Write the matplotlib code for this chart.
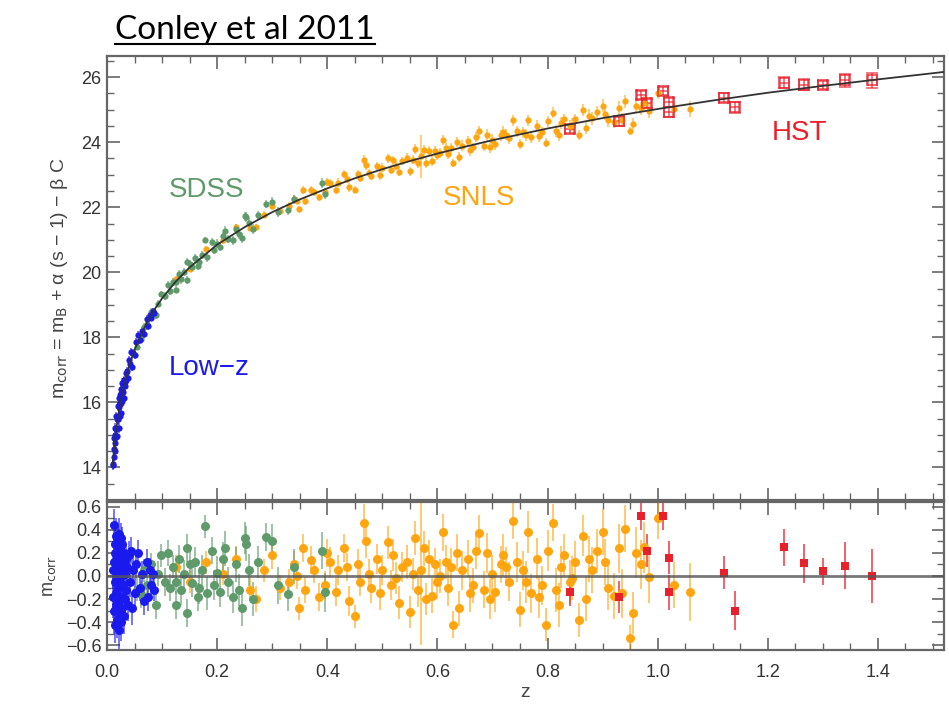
import matplotlib
matplotlib.use('Agg')
import matplotlib.pyplot as plt
from matplotlib.ticker import MultipleLocator
from matplotlib.lines import Line2D
from matplotlib.colors import to_rgba

plt.rcParams['font.family'] = ['Liberation Sans', 'DejaVu Sans']

# best-fit model curve
model_z = [0.010, 0.015, 0.020, 0.025, 0.030, 0.040, 0.050, 0.070, 0.085, 0.10,
           0.125, 0.15, 0.20, 0.25, 0.30, 0.35, 0.40, 0.45, 0.50, 0.55,
           0.60, 0.65, 0.70, 0.75, 0.80, 0.85, 0.90, 0.95, 1.00, 1.05,
           1.10, 1.20, 1.30, 1.40, 1.50, 1.52]
model_m = [14.06, 14.95, 15.58, 16.07, 16.48, 17.12, 17.62, 18.38, 18.83, 19.20,
           19.72, 20.15, 20.85, 21.39, 21.85, 22.24, 22.58, 22.89, 23.17, 23.42,
           23.65, 23.86, 24.06, 24.24, 24.42, 24.58, 24.74, 24.88, 25.02, 25.15,
           25.28, 25.52, 25.73, 25.93, 26.12, 26.16]

# Low-z sample
lowz_z = [0.010, 0.011, 0.012, 0.012, 0.013, 0.014, 0.014, 0.015, 0.015, 0.016,
          0.016, 0.017, 0.017, 0.018, 0.018, 0.019, 0.020, 0.020, 0.021, 0.021,
          0.022, 0.022, 0.023, 0.023, 0.024, 0.024, 0.025, 0.025, 0.026, 0.026,
          0.027, 0.028, 0.028, 0.029, 0.030, 0.030, 0.031, 0.032, 0.033, 0.034,
          0.035, 0.036, 0.038, 0.040, 0.042, 0.044, 0.045, 0.047, 0.050, 0.053,
          0.056, 0.060, 0.064, 0.068, 0.072, 0.075, 0.078, 0.080, 0.083, 0.086]
lowz_m = [14.11, 14.09, 14.90, 14.58, 14.33, 14.99, 14.74, 15.22, 14.52, 15.17,
          14.94, 15.57, 14.97, 15.50, 14.97, 15.49, 15.88, 15.48, 15.87, 15.22,
          16.15, 15.57, 15.99, 15.57, 16.23, 15.96, 16.40, 15.67, 16.28, 15.98,
          16.29, 16.60, 16.04, 16.32, 16.68, 16.13, 16.65, 16.64, 16.49, 16.91,
          16.70, 16.96, 16.75, 17.30, 17.18, 17.55, 17.10, 17.53, 17.47, 17.85,
          18.08, 17.93, 18.20, 18.10, 18.57, 18.36, 18.68, 18.61, 18.80, 18.74]
lowz_res = [0.05, -0.18, 0.44, 0.12, -0.30, 0.20, -0.05, 0.28, -0.42, 0.08,
            -0.15, 0.35, -0.25, 0.15, -0.38, 0.02, 0.30, -0.10, 0.18, -0.47,
            0.36, -0.22, 0.10, -0.32, 0.25, -0.02, 0.33, -0.40, 0.12, -0.18,
            0.05, 0.28, -0.28, -0.08, 0.20, -0.35, 0.10, 0.02, -0.20, 0.15,
            -0.12, 0.08, -0.25, 0.18, -0.05, 0.22, -0.28, 0.05, -0.15, 0.10,
            0.20, -0.10, 0.02, -0.22, 0.12, -0.18, 0.05, -0.08, 0.02, -0.12]
lowz_err = [0.15, 0.18, 0.14, 0.16, 0.20, 0.15, 0.17, 0.14, 0.16, 0.15,
            0.17, 0.15, 0.18, 0.14, 0.16, 0.15, 0.14, 0.17, 0.15, 0.16,
            0.14, 0.16, 0.15, 0.17, 0.14, 0.15, 0.13, 0.16, 0.14, 0.15,
            0.13, 0.14, 0.15, 0.13, 0.14, 0.15, 0.13, 0.12, 0.14, 0.13,
            0.12, 0.13, 0.14, 0.12, 0.13, 0.12, 0.14, 0.12, 0.13, 0.12,
            0.11, 0.12, 0.11, 0.12, 0.11, 0.12, 0.11, 0.10, 0.11, 0.10]

# SDSS sample
sdss_z = [0.055, 0.062, 0.067, 0.073, 0.080, 0.089, 0.092, 0.098, 0.105, 0.110,
          0.115, 0.120, 0.125, 0.126, 0.130, 0.135, 0.140, 0.146, 0.146, 0.150,
          0.155, 0.160, 0.165, 0.167, 0.172, 0.178, 0.182, 0.190, 0.195, 0.200,
          0.205, 0.210, 0.215, 0.220, 0.228, 0.235, 0.240, 0.245, 0.250, 0.252,
          0.258, 0.265, 0.275, 0.288, 0.300, 0.310, 0.328, 0.340, 0.390, 0.395]
sdss_m = [17.71, 17.94, 18.33, 18.40, 18.79, 18.68, 19.03, 19.33, 19.26, 19.62,
          19.43, 19.71, 19.47, 19.69, 19.96, 19.78, 20.01, 20.33, 19.77, 20.25,
          20.17, 20.43, 20.20, 20.31, 20.53, 20.99, 20.47, 20.94, 20.70, 20.88,
          20.77, 21.11, 21.26, 21.03, 20.99, 21.34, 21.17, 21.06, 21.72, 21.69,
          21.52, 21.34, 21.75, 22.09, 22.15, 21.85, 21.91, 22.24, 22.74, 22.41]
sdss_res = [-0.12, -0.16, 0.05, -0.08, 0.10, -0.25, 0.02, 0.18, -0.05, 0.20,
            -0.10, 0.08, -0.25, -0.05, 0.15, -0.12, 0.02, 0.24, -0.32, 0.10,
            -0.06, 0.12, -0.18, -0.10, 0.05, 0.43, -0.15, 0.22, -0.08, 0.03,
            -0.14, 0.15, 0.24, -0.05, -0.18, 0.10, -0.12, -0.28, 0.33, 0.28,
            0.05, -0.20, 0.12, 0.34, 0.30, -0.08, -0.16, 0.08, 0.22, -0.14]
sdss_err = [0.10, 0.12, 0.10, 0.11, 0.10, 0.12, 0.11, 0.10, 0.12, 0.11,
            0.12, 0.10, 0.12, 0.11, 0.12, 0.13, 0.12, 0.12, 0.12, 0.13,
            0.12, 0.13, 0.12, 0.14, 0.13, 0.10, 0.14, 0.12, 0.13, 0.14,
            0.13, 0.14, 0.15, 0.13, 0.14, 0.15, 0.14, 0.15, 0.14, 0.15,
            0.14, 0.15, 0.14, 0.12, 0.15, 0.16, 0.14, 0.15, 0.16, 0.17]

# SNLS sample
snls_z = [0.125, 0.150, 0.180, 0.210, 0.235, 0.260, 0.270, 0.285, 0.300, 0.315,
          0.330, 0.340, 0.348, 0.355, 0.360, 0.370, 0.375, 0.385, 0.400, 0.405,
          0.415, 0.420, 0.430, 0.440, 0.450, 0.455, 0.460, 0.467, 0.470, 0.480,
          0.490, 0.495, 0.500, 0.510, 0.515, 0.520, 0.530, 0.535, 0.545, 0.550,
          0.555, 0.560, 0.570, 0.575, 0.580, 0.585, 0.590, 0.595, 0.600, 0.610,
          0.615, 0.620, 0.628, 0.635, 0.640, 0.645, 0.655, 0.665, 0.670, 0.676,
          0.685, 0.690, 0.700, 0.705, 0.715, 0.720, 0.730, 0.737, 0.745, 0.750,
          0.755, 0.765, 0.770, 0.780, 0.790, 0.798, 0.800, 0.810, 0.815, 0.825,
          0.830, 0.840, 0.850, 0.858, 0.865, 0.870, 0.880, 0.890, 0.900, 0.910,
          0.920, 0.930, 0.940, 0.950, 0.955, 0.960, 0.970, 0.985, 1.000, 1.030,
          1.058, 0.345, 0.435, 0.525, 0.605, 0.660, 0.725, 0.785, 0.845, 0.905,
          0.395, 0.475, 0.565, 0.625, 0.695, 0.760, 0.820, 0.875, 0.935, 0.975]
snls_m = [19.80, 20.10, 20.71, 20.98, 21.39, 21.37, 21.38, 21.77, 22.03, 21.87,
          22.04, 22.26, 21.94, 22.52, 22.19, 22.52, 22.46, 22.30, 22.78, 22.73,
          22.54, 22.76, 23.01, 22.61, 22.54, 23.02, 22.90, 23.45, 23.30, 22.96,
          23.26, 22.99, 23.22, 23.51, 23.16, 23.45, 23.09, 23.42, 23.51, 23.11,
          23.46, 23.80, 23.56, 23.77, 23.36, 23.73, 23.43, 23.73, 23.60, 24.07,
          23.83, 23.63, 23.35, 24.00, 23.54, 23.89, 24.03, 23.84, 24.16, 24.33,
          23.88, 24.22, 24.08, 23.94, 24.21, 24.31, 24.12, 24.67, 24.34, 23.95,
          24.31, 24.67, 24.16, 24.50, 24.30, 23.99, 24.64, 24.91, 24.35, 24.58,
          24.70, 24.50, 24.70, 24.23, 24.98, 24.44, 24.73, 24.93, 25.12, 24.67,
          24.63, 25.06, 25.26, 24.34, 24.57, 25.11, 25.04, 24.97, 25.52, 25.02,
          25.03, 22.20, 22.88, 23.27, 23.67, 23.75, 24.23, 24.19, 24.54, 24.87,
          22.47, 23.05, 23.37, 23.83, 23.84, 24.23, 24.23, 24.81, 24.69, 25.20]
snls_res = [0.08, -0.05, 0.12, 0.02, 0.15, -0.12, -0.20, 0.05, 0.18, -0.10,
            -0.05, 0.10, -0.28, 0.24, -0.12, 0.14, 0.05, -0.18, 0.20, 0.12,
            -0.14, 0.05, 0.24, -0.22, -0.35, 0.10, -0.05, 0.46, 0.30, -0.10,
            0.15, -0.15, 0.05, 0.29, -0.08, 0.18, -0.23, 0.08, 0.12, -0.31,
            0.02, 0.33, 0.05, 0.24, -0.20, 0.15, -0.17, 0.10, -0.05, 0.38,
            0.12, -0.10, -0.42, 0.20, -0.28, 0.05, 0.15, -0.08, 0.22, 0.37,
            -0.12, 0.20, 0.02, -0.14, 0.10, 0.18, -0.05, 0.48, 0.12, -0.29,
            0.05, 0.38, -0.15, 0.15, -0.08, -0.42, 0.22, 0.46, -0.12, 0.08,
            0.18, -0.05, 0.12, -0.38, 0.35, -0.20, 0.05, 0.22, 0.38, -0.10,
            -0.17, 0.24, 0.41, -0.54, -0.32, 0.20, 0.10, -0.01, 0.50, -0.08,
            -0.14, 0.00, 0.08, -0.02, 0.00, -0.15, 0.08, -0.18, -0.02, 0.12,
            -0.08, 0.02, -0.12, 0.08, -0.20, -0.05, -0.25, 0.15, -0.15, 0.25]
snls_err = [0.10, 0.10, 0.10, 0.10, 0.11, 0.10, 0.11, 0.10, 0.12, 0.11,
            0.11, 0.12, 0.10, 0.12, 0.11, 0.12, 0.11, 0.12, 0.12, 0.13,
            0.12, 0.13, 0.12, 0.13, 0.10, 0.13, 0.12, 0.16, 0.14, 0.13,
            0.13, 0.14, 0.13, 0.14, 0.13, 0.14, 0.14, 0.13, 0.15, 0.14,
            0.14, 0.15, 0.65, 0.15, 0.14, 0.16, 0.15, 0.14, 0.15, 0.16,
            0.15, 0.16, 0.12, 0.16, 0.15, 0.17, 0.16, 0.15, 0.16, 0.16,
            0.16, 0.17, 0.16, 0.17, 0.16, 0.18, 0.17, 0.16, 0.17, 0.15,
            0.17, 0.18, 0.17, 0.18, 0.17, 0.14, 0.18, 0.16, 0.19, 0.18,
            0.18, 0.19, 0.18, 0.15, 0.18, 0.19, 0.20, 0.19, 0.20, 0.19,
            0.20, 0.21, 0.20, 0.12, 0.18, 0.22, 0.21, 0.22, 0.18, 0.20,
            0.25, 0.11, 0.12, 0.14, 0.15, 0.16, 0.17, 0.18, 0.19, 0.20,
            0.12, 0.13, 0.15, 0.16, 0.17, 0.18, 0.19, 0.20, 0.21, 0.22]

# HST sample
hst_z = [0.84, 0.93, 0.97, 0.98, 1.01, 1.02, 1.02, 1.12, 1.14, 1.23, 1.265, 1.30, 1.34, 1.39]
hst_m = [24.41, 24.64, 25.46, 25.19, 25.57, 25.23, 24.93, 25.36, 25.08, 25.83, 25.77, 25.77, 25.90, 25.91]
hst_res = [-0.14, -0.18, 0.52, 0.22, 0.52, 0.16, -0.14, 0.03, -0.30, 0.25, 0.11, 0.04, 0.09, 0.00]
hst_err = [0.12, 0.14, 0.12, 0.14, 0.12, 0.14, 0.15, 0.14, 0.17, 0.16, 0.17, 0.12, 0.20, 0.23]

c_lowz = '#1a1aee'
c_sdss = '#5e9a6a'
c_snls = '#ffa510'
c_hst = '#e8202c'

fig = plt.figure(figsize=(9.49, 7.13), dpi=100)
ax1 = fig.add_axes([0.1128, 0.2987, 0.8819, 0.6228])
ax2 = fig.add_axes([0.1128, 0.0884, 0.8819, 0.2075])


def style(ax):
    for s in ax.spines.values():
        s.set_color('#666666')
        s.set_linewidth(1.6)
    ax.tick_params(which='both', direction='in', top=True, right=True,
                   colors='#666666', labelcolor='#333333', labelsize=13)
    ax.tick_params(which='major', length=9, width=1.2)
    ax.tick_params(which='minor', length=5, width=1.0)
    ax.tick_params(axis='x', pad=10)
    ax.tick_params(axis='y', pad=4)
    ax.xaxis.set_major_locator(MultipleLocator(0.2))
    ax.xaxis.set_minor_locator(MultipleLocator(0.05))
    ax.set_xlim(0, 1.52)


# top panel: Hubble diagram
samples = [(snls_z, snls_m, snls_err, c_snls),
           (sdss_z, sdss_m, sdss_err, c_sdss),
           (lowz_z, lowz_m, lowz_err, c_lowz)]
for zz, mm, ee, cc in samples:
    ax1.errorbar(zz, mm, yerr=ee, fmt='o', ms=4.5, color=cc, ecolor=to_rgba(cc, 0.6),
                 elinewidth=1.3, capsize=3.5, capthick=1.2, mew=0)
ax1.errorbar(hst_z, hst_m, yerr=hst_err, xerr=0.008, fmt='s', ms=7, mfc='none',
             mec=to_rgba(c_hst, 0.8), mew=1.2, ecolor=to_rgba(c_hst, 0.7),
             elinewidth=1.2, capsize=4)
ax1.plot(model_z, model_m, color='#333333', lw=1.3, zorder=5)

ax1.set_ylim(13.0, 26.65)
ax1.yaxis.set_major_locator(MultipleLocator(2))
ax1.yaxis.set_minor_locator(MultipleLocator(0.5))
style(ax1)
ax1.tick_params(axis='x', labelbottom=False)
ax1.set_ylabel('m$_{\\rm corr}$ = m$_{\\rm B}$ + \u03b1 (s \u2212 1) \u2212 \u03b2 C',
               fontsize=14, color='#444444', labelpad=8)

ax1.text(0.18, 22.53, 'SDSS', color=c_sdss, fontsize=20, ha='center', va='center')
ax1.text(0.185, 17.07, 'Low\u2212z', color=c_lowz, fontsize=20, ha='center', va='center')
ax1.text(0.676, 22.29, 'SNLS', color=c_snls, fontsize=20, ha='center', va='center')
ax1.text(1.258, 24.28, 'HST', color=c_hst, fontsize=20, ha='center', va='center')

# bottom panel: residuals
for zz, rr, ee, cc in [(snls_z, snls_res, snls_err, c_snls),
                       (sdss_z, sdss_res, sdss_err, c_sdss),
                       (lowz_z, lowz_res, lowz_err, c_lowz)]:
    ax2.errorbar(zz, rr, yerr=ee, fmt='o', ms=6.5, color=cc, ecolor=to_rgba(cc, 0.6),
                 elinewidth=1.4, capsize=4, capthick=1.3, mew=0)
ax2.errorbar(hst_z, hst_res, yerr=hst_err, fmt='s', ms=6, color=c_hst,
             ecolor=to_rgba(c_hst, 0.7), elinewidth=1.4, capsize=5, capthick=1.3, mew=0)
ax2.axhline(0, color='#555555', lw=2.0, alpha=0.8, zorder=6)

ax2.set_ylim(-0.64, 0.64)
ax2.yaxis.set_major_locator(MultipleLocator(0.2))
ax2.yaxis.set_minor_locator(MultipleLocator(0.1))
style(ax2)
ax2.set_ylabel('m$_{\\rm corr}$', fontsize=13, color='#444444', labelpad=6)
ax2.set_xlabel('z', fontsize=14, color='#444444', labelpad=2)

# underlined title
title = fig.text(115 / 949, 1 - 30 / 713, 'Conley et al 2011', fontsize=24,
                 family=['Lato', 'DejaVu Sans'], ha='left', va='center', color='black')
fig.canvas.draw()
bb = title.get_window_extent()
inv = fig.transFigure.inverted()
x0, y0 = inv.transform((bb.x0, bb.y0 + 1))
x1, _ = inv.transform((bb.x1, bb.y0 + 1))
fig.add_artist(Line2D([x0, x1], [y0, y0], transform=fig.transFigure, color='black', lw=1.5))

fig.savefig('out.png', dpi=100)
